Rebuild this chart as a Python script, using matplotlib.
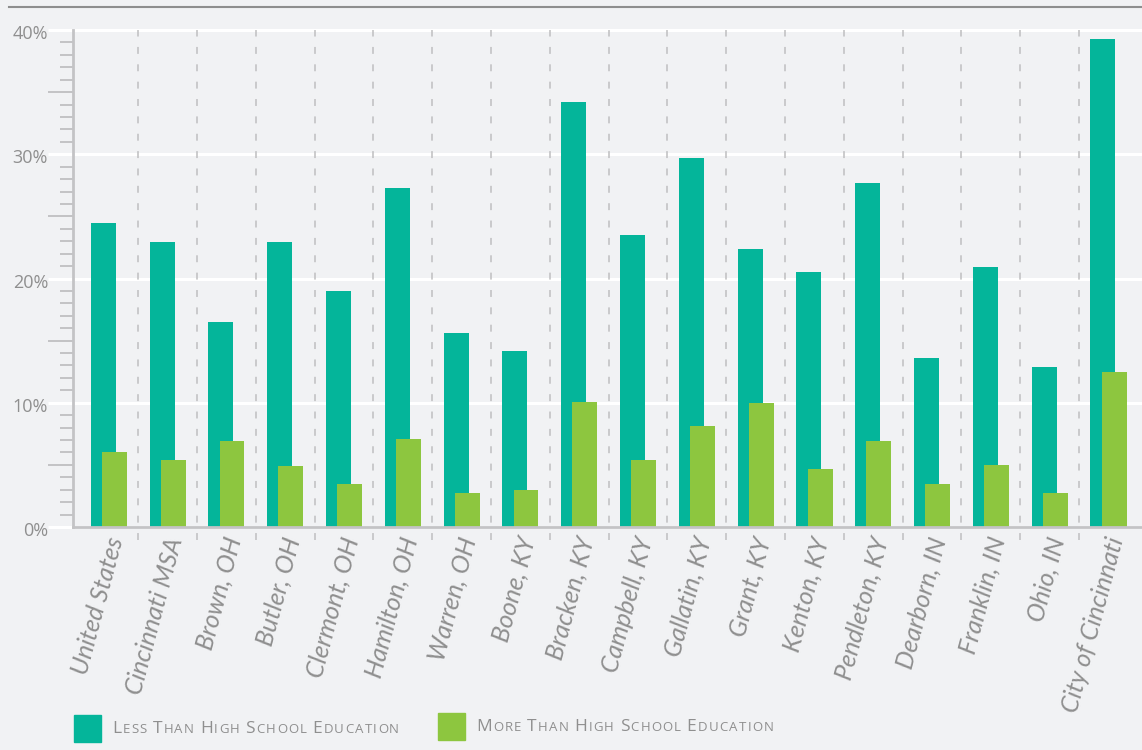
import numpy as np
import matplotlib.pyplot as plt
import matplotlib.transforms as mtransforms
from matplotlib.lines import Line2D
from matplotlib.patches import Rectangle
from matplotlib.offsetbox import TextArea, HPacker, AnnotationBbox

plt.rcParams['font.family'] = ['Open Sans', 'DejaVu Sans']
plt.rcParams['lines.scale_dashes'] = False

places = ['United States', 'Cincinnati MSA', 'Brown, OH', 'Butler, OH', 'Clermont, OH',
          'Hamilton, OH', 'Warren, OH', 'Boone, KY', 'Bracken, KY', 'Campbell, KY',
          'Gallatin, KY', 'Grant, KY', 'Kenton, KY', 'Pendleton, KY', 'Dearborn, IN',
          'Franklin, IN', 'Ohio, IN', 'City of Cincinnati']
less_hs = [24.5, 22.9, 16.5, 22.9, 19.0, 27.3, 15.6, 14.2, 34.2, 23.5,
           29.7, 22.4, 20.5, 27.7, 13.6, 20.9, 12.9, 39.3]
more_hs = [6.0, 5.4, 6.9, 4.9, 3.5, 7.1, 2.7, 3.0, 10.1, 5.4,
           8.1, 10.0, 4.7, 6.9, 3.5, 5.0, 2.7, 12.5]
series_names = ['Less Than High School Education', 'More Than High School Education']

BG = '#f1f2f4'
TEAL = '#04b59a'
GREEN = '#8dc63f'
GREY = '#8f8f8f'
AXC = '#c3c3c5'

fig = plt.figure(figsize=(11.42, 7.5), dpi=100, facecolor=BG)
W, H = 1142, 750
ax = fig.add_axes([73 / W, 1 - 527 / H, 1 - 73 / W, (527 - 30) / H])
ax.set_facecolor(BG)

x = np.arange(len(places))
ax.bar(x - 0.094, less_hs, width=0.425, color=TEAL, zorder=3)
ax.bar(x + 0.094, more_hs, width=0.425, color=GREEN, zorder=4)

ax.set_xlim(-0.61, 17.57)
ax.set_ylim(0, 40)

# white gridlines reaching into the label gutter
ax.hlines([0, 10, 20, 30, 40], -25 / 1069, 1, transform=ax.get_yaxis_transform(),
          color='white', lw=2.2, clip_on=False, zorder=1)
# dashed separators between places
ax.vlines(x[:-1] + 0.5, -13 / 497, 1, transform=ax.get_xaxis_transform(),
          color=AXC, lw=1.2, linestyles=(0, (5, 7.5)), clip_on=False, zorder=2)

for s in ['top', 'right']:
    ax.spines[s].set_visible(False)
for s in ['left', 'bottom']:
    ax.spines[s].set_color(AXC)
    ax.spines[s].set_linewidth(2)
    ax.spines[s].set_zorder(5)

# y axis: labels every 10, small ticks every 1, longer ticks at the 5s
ax.set_yticks([0, 10, 20, 30, 40], ['0%', '10%', '20%', '30%', '40%'])
ax.set_yticks([v for v in range(1, 40) if v % 10], minor=True)
ax.tick_params(axis='y', which='major', length=0, pad=18, labelsize=13, labelcolor=GREY)
ax.tick_params(axis='y', which='minor', length=9.5, width=1.4, color=AXC)
ax.hlines([5, 15, 25, 35], -25 / 1069, 0, transform=ax.get_yaxis_transform(),
          color=AXC, lw=1.4, clip_on=False, zorder=2)
for lab in ax.get_yticklabels():
    lab.set_transform(lab.get_transform() + mtransforms.ScaledTranslation(0, -2 / 100, fig.dpi_scale_trans))

# x labels: rotated italic names
ax.set_xticks(x, places, rotation=75, ha='right', va='baseline', rotation_mode='anchor',
              fontstyle='italic', fontsize=18, color=GREY, family=['Lato', 'DejaVu Sans'])
ax.tick_params(axis='x', length=0, pad=9)
offset = mtransforms.ScaledTranslation(15 / 100, 0, fig.dpi_scale_trans)
for lab in ax.get_xticklabels():
    lab.set_transform(lab.get_transform() + offset)

# top rule
fig.add_artist(Line2D([9 / W, 1], [1 - 7 / H, 1 - 7 / H], transform=fig.transFigure,
                      color='#8e8e8e', lw=1.5))


def small_caps(text, big=12.5, small=9.5, track=0.9):
    parts = []
    for k, word in enumerate(text.split(' ')):
        if k:
            parts.append(TextArea(' ', textprops=dict(fontsize=small, color=GREY)))
        parts.append(TextArea(word[0].upper(), textprops=dict(fontsize=big, color=GREY)))
        for ch in word[1:].upper():
            parts.append(TextArea(ch, textprops=dict(fontsize=small, color=GREY)))
    return HPacker(children=parts, sep=track, pad=0, align='baseline')


legend_items = [(74, 715, TEAL, series_names[0]), (438, 713, GREEN, series_names[1])]
for px, py, col, name in legend_items:
    fig.add_artist(Rectangle((px / W, 1 - (py + 27) / H), 27 / W, 27 / H,
                             transform=fig.transFigure, color=col))
    ab = AnnotationBbox(small_caps(name), ((px + 38) / W, 1 - (py + 14) / H),
                        xycoords='figure fraction', box_alignment=(0, 0.5), frameon=False)
    fig.add_artist(ab)

fig.savefig('out.png', dpi=100, facecolor=BG)
